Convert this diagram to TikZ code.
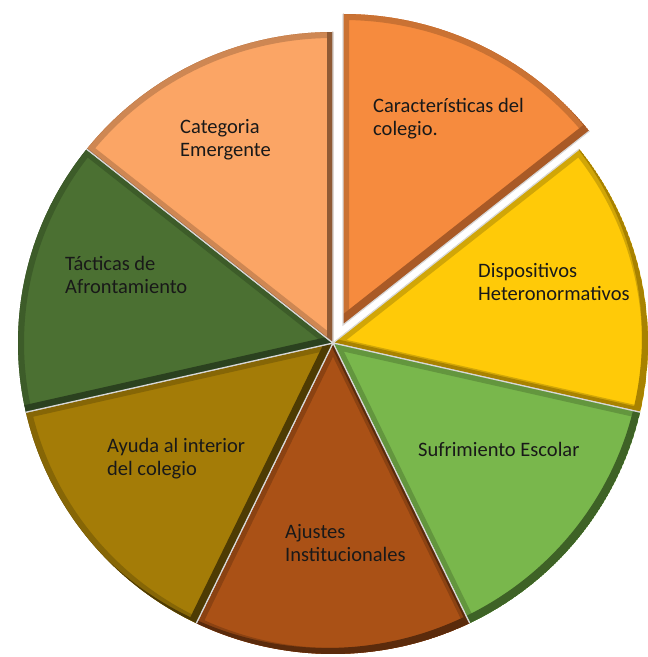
\documentclass[tikz,border=0pt]{standalone}
\usepackage{fontspec}
\setmainfont{Carlito}
\usepackage{tikz}

\definecolor{carC}{HTML}{F68B3E}  \definecolor{carD}{HTML}{A95A26}
\definecolor{disC}{HTML}{FFCA08}  \definecolor{disD}{HTML}{A88200}
\definecolor{sufC}{HTML}{79B74C}  \definecolor{sufD}{HTML}{3E6226}
\definecolor{ajuC}{HTML}{AA5116}  \definecolor{ajuD}{HTML}{5B2B0C}
\definecolor{ayuC}{HTML}{A47C07}  \definecolor{ayuD}{HTML}{4E3B03}
\definecolor{tacC}{HTML}{4B7032}  \definecolor{tacD}{HTML}{2B411F}
\definecolor{catC}{HTML}{FBA565}  \definecolor{catD}{HTML}{8E5A35}

\newcommand{\Rx}{315pt}
\newcommand{\Ry}{311pt}
%% #1 centre, #2 from, #3 to, #4 face colour, #5 bevel colour
\newcommand{\Wedge}[5]{%
  \begin{scope}
    \clip #1 -- ++(#2:315pt and 311pt)
      arc[start angle=#2, end angle=#3, x radius=\Rx, y radius=\Ry] -- cycle;
    \fill[#4] #1 -- ++(#2:315pt and 311pt)
      arc[start angle=#2, end angle=#3, x radius=\Rx, y radius=\Ry] -- cycle;
    \draw[#4!82!black, line width=12pt] #1 -- ++(#2:315pt and 311pt)
      arc[start angle=#2, end angle=#3, x radius=\Rx, y radius=\Ry] -- cycle;
    \fill[#5, even odd rule] #1 -- ++(#2:315pt and 311pt)
      arc[start angle=#2, end angle=#3, x radius=\Rx, y radius=\Ry] -- cycle
      #1 ++(-6,6) -- ++(#2:315pt and 311pt)
      arc[start angle=#2, end angle=#3, x radius=\Rx, y radius=\Ry] -- cycle;
  \end{scope}
  \draw[seam] #1 ++(#2:315pt and 311pt) -- #1 -- ++(#3:315pt and 311pt);
}

\begin{document}
\begin{tikzpicture}[x=1pt, y=1pt,
  seam/.style={draw=gray!30, line width=1.2pt},
  lbl/.style={anchor=west, align=left, inner sep=0pt, text=black!90,
    font=\fontsize{20.5}{23}\selectfont}]

  \useasboundingbox (0,0) rectangle (648,657);

  \coordinate (mid) at (333,314);
  \coordinate (out) at (343,332); %% exploded slice

  \Wedge{(mid)}{38.571}{-12.857}{disC}{disD}
  \Wedge{(mid)}{-12.857}{-64.286}{sufC}{sufD}
  \Wedge{(mid)}{-64.286}{-115.714}{ajuC}{ajuD}
  \Wedge{(mid)}{-115.714}{-167.143}{ayuC}{ayuD}
  \Wedge{(mid)}{-167.143}{-218.571}{tacC}{tacD}
  \Wedge{(mid)}{141.429}{90}{catC}{catD}
  \Wedge{(out)}{90}{38.571}{carC}{carD}

  \node[lbl] (car) at (373,538.5) {Características del\\colegio.};
  \node[lbl] (dis) at (478,375) {Dispositivos\\Heteronormativos};
  \node[lbl] (suf) at (418,208) {Sufrimiento Escolar};
  \node[lbl] (aju) at (285,113.5) {Ajustes\\Institucionales};
  \node[lbl] (ayu) at (107,198.5) {Ayuda al interior\\del colegio};
  \node[lbl] (tac) at (65,382.5) {Tácticas de\\Afrontamiento};
  \node[lbl] (cat) at (180,517.5) {Categoria\\Emergente};
\end{tikzpicture}
\end{document}
